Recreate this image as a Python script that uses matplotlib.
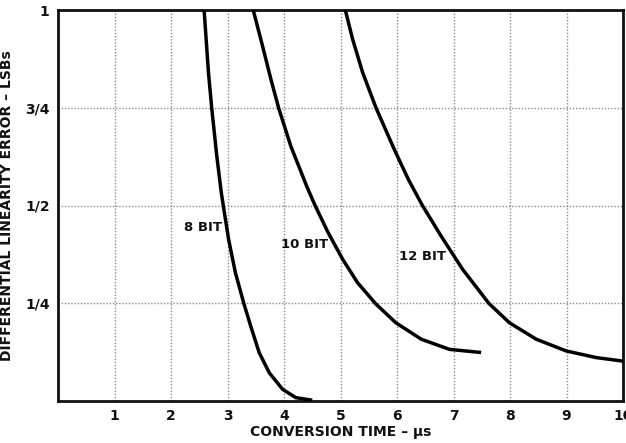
import matplotlib
matplotlib.use("Agg")
import matplotlib.pyplot as plt

# Data
bit8_x = [2.586, 2.663, 2.720, 2.810, 2.890, 2.925, 3.020, 3.140, 3.290, 3.410, 3.560, 3.740, 3.975, 4.210, 4.500]
bit8_y = [1.000, 0.840, 0.750, 0.627, 0.533, 0.500, 0.413, 0.328, 0.249, 0.192, 0.124, 0.072, 0.030, 0.0085, 0.002]

bit10_x = [3.455, 3.620, 3.768, 3.904, 4.120, 4.400, 4.550, 4.780, 5.040, 5.300, 5.620, 5.980, 6.430, 6.930, 7.489]
bit10_y = [1.000, 0.908, 0.823, 0.750, 0.652, 0.550, 0.500, 0.431, 0.362, 0.303, 0.249, 0.200, 0.158, 0.132, 0.124]

bit12_x = [5.085, 5.215, 5.392, 5.628, 5.950, 6.200, 6.450, 6.780, 7.160, 7.630, 7.991, 8.464, 8.995, 9.527, 10.0]
bit12_y = [1.000, 0.925, 0.840, 0.750, 0.644, 0.567, 0.500, 0.422, 0.337, 0.249, 0.200, 0.158, 0.128, 0.111, 0.102]

x_ticks = [1, 2, 3, 4, 5, 6, 7, 8, 9, 10]
y_ticks = [0.25, 0.5, 0.75, 1.0]
y_tick_labels = ["1/4", "1/2", "3/4", "1"]

curve_labels = ["8 BIT", "10 BIT", "12 BIT"]
label_pos = [(2.23, 0.445), (3.95, 0.399), (6.03, 0.369)]

plt.rcParams['font.family'] = ['DejaVu Sans']
plt.rcParams['font.weight'] = 'bold'

fig = plt.figure(figsize=(6.26, 4.43), dpi=100)
ax = fig.add_axes([58/626, 1 - 401/443, (623-58)/626, (401-10)/443])

for xs, ys in [(bit8_x, bit8_y), (bit10_x, bit10_y), (bit12_x, bit12_y)]:
    ax.plot(xs, ys, color='black', lw=2.5, solid_capstyle='butt', solid_joinstyle='round', zorder=3)

for text, (tx, ty) in zip(curve_labels, label_pos):
    ax.text(tx, ty, text, fontsize=9.5, fontweight='bold', color='#111111',
            ha='left', va='center', zorder=4)

ax.set_xlim(0, 10)
ax.set_ylim(0, 1)
ax.set_xticks(x_ticks)
ax.set_xticklabels([str(t) for t in x_ticks])
ax.set_yticks(y_ticks)
ax.set_yticklabels(y_tick_labels)
ax.tick_params(length=0, labelsize=10, pad=6, colors='#111111')

ax.grid(True, color='#8a8a8a', linestyle=(0, (1, 1.3)), linewidth=1.0, zorder=1)
for s in ax.spines.values():
    s.set_linewidth(2.0)
    s.set_color('#111111')

ax.set_xlabel("CONVERSION TIME – μs", fontsize=10, fontweight='bold', labelpad=1, color='#111111')
ax.set_ylabel("DIFFERENTIAL LINEARITY ERROR – LSBs", fontsize=10, fontweight='bold', labelpad=8, color='#111111')

fig.savefig("out.png", dpi=100)
